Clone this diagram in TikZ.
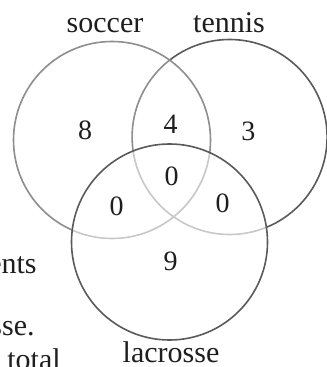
\documentclass[tikz,border=0pt]{standalone}
\usepackage{fontspec}
\setmainfont{Liberation Serif}
\begin{document}
\begin{tikzpicture}[x=0.5pt, y=-0.5pt,
    setname/.style={font=\fontsize{15}{18}\selectfont, anchor=base, inner sep=0pt},
    count/.style={font=\fontsize{14}{17}\selectfont, inner sep=0pt},
    sidetext/.style={font=\fontsize{15}{18}\selectfont, inner sep=0pt},
    ring/.style={line width=0.8pt}]
    \def\radS{98.5}
    \def\radT{97.5}
    \def\radL{98}

    \definecolor{darkLine}{HTML}{5A5A5A}
    \definecolor{midLine}{HTML}{8E8E8E}
    \definecolor{lightLine}{HTML}{C8C8C8}
    \definecolor{textColour}{HTML}{1E1E1E}

    \useasboundingbox (0,0) rectangle (326,367);

    % Circle centres
    \coordinate (S) at (112,140);
    \coordinate (T) at (229.6,137);
    \coordinate (L) at (169.5,242);

    % Tennis circle, paler where soccer lies over it
    \draw[ring, darkLine] (T) circle (\radT);
    \begin{scope}
        \clip (S) circle (\radS);
        \fill[white] (S) circle (\radS);
        \draw[ring, midLine] (T) circle (\radT);
    \end{scope}

    % Soccer circle
    \draw[ring, midLine] (S) circle (\radS);

    % Both fade where lacrosse lies over them
    \begin{scope}
        \clip (L) circle (\radL);
        \fill[white] (L) circle (\radL);
        \draw[ring, lightLine] (S) circle (\radS);
        \draw[ring, lightLine] (T) circle (\radT);
    \end{scope}

    % Lacrosse circle
    \draw[ring, darkLine] (L) circle (\radL);

    % Set names
    \node[setname, textColour] (soccer) at (105,33) {soccer};
    \node[setname, textColour] (tennis) at (229,33) {tennis};
    \node[setname, textColour] (lacrosse) at (171,362) {lacrosse};

    % Counts in each region
    \node[count, textColour] (nS) at (85,130) {8};
    \node[count, textColour] (nST) at (170.5,124) {4};
    \node[count, textColour] (nT) at (248.3,131.7) {3};
    \node[count, textColour] (nSTL) at (171.5,176.5) {0};
    \node[count, textColour] (nSL) at (116.7,206.7) {0};
    \node[count, textColour] (nTL) at (222.7,203.3) {0};
    \node[count, textColour] (nL) at (170.7,261.7) {9};

    % Text cut off at the left edge
    \node[sidetext, textColour, anchor=base east] (lineA) at (37,273) {ents};
    \node[sidetext, textColour, anchor=base east] (lineB) at (35,335) {sse.};
    \node[sidetext, textColour, anchor=base west] (lineC) at (7,369) {total};

\end{tikzpicture}
\end{document}
